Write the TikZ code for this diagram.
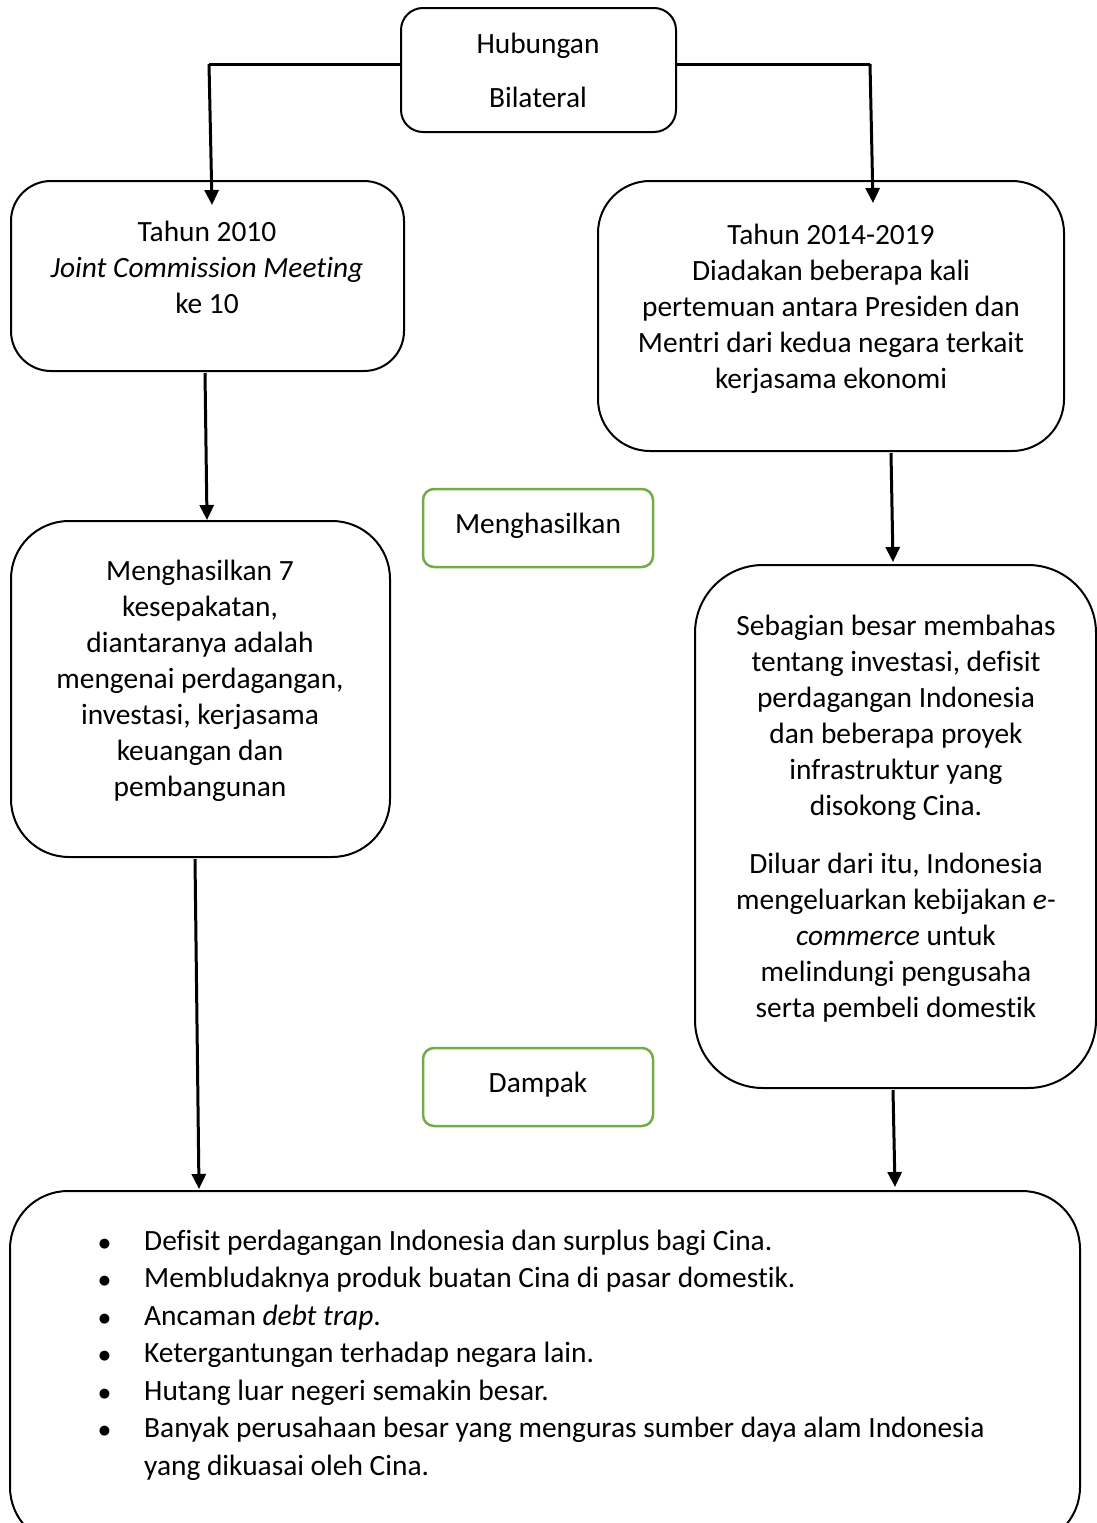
\documentclass[tikz,border=0pt]{standalone}
\usepackage{fontspec}
\setmainfont{Carlito}[Ligatures=NoCommon]
\newfontfamily\dejavu{DejaVu Sans}
\usetikzlibrary{arrows.meta,calc}
\definecolor{offgreen}{HTML}{70AD47}
\tikzset{
  box/.style={draw=black, line width=2pt, rectangle, inner sep=0pt},
  gbox/.style={draw=offgreen, line width=2.5pt, rectangle, rounded corners=11pt, inner sep=0pt, minimum width=230pt, minimum height=78pt},
  txt/.style={align=center, inner sep=0pt, anchor=base, font=\fontsize{29.4}{36}\selectfont},
  conn/.style={line width=3pt, -{Triangle[length=15pt,width=14pt]}},
  plain/.style={line width=3pt},
}
\newcommand{\blt}{\llap{\raisebox{3pt}{\dejavu\fontsize{13}{13}\selectfont ●}\hspace{34pt}}}
\begin{document}
\begin{tikzpicture}[x=1pt,y=-1pt]
\useasboundingbox (0,0) rectangle (1097,1523);
\clip (0,0) rectangle (1097,1523);
% boxes
\node[box, rounded corners=22pt, minimum width=275pt, minimum height=124pt] (top) at (538.5,70) {};
\node[box, rounded corners=40pt, minimum width=393pt, minimum height=190pt] (A) at (207.5,276) {};
\node[box, rounded corners=52pt, minimum width=466pt, minimum height=270pt] (B) at (831,316) {};
\node[box, rounded corners=58pt, minimum width=379pt, minimum height=336pt] (C) at (200.5,689) {};
\node[box, rounded corners=68pt, minimum width=401pt, minimum height=523pt] (D) at (895.5,826.5) {};
\node[box, rounded corners=58pt, minimum width=1070pt, minimum height=354pt] (E) at (545,1368) {};
\node[gbox] (G1) at (538,528) {};
\node[gbox] (G2) at (538,1087) {};
% texts (anchor = baseline of last line)
\node[txt] (tTop) at (538,107) {Hubungan\\[18pt]Bilateral};
\node[txt] (tA) at (207,313) {Tahun 2010\\\textit{Joint Commission Meeting}\\ke 10};
\node[txt] (tB) at (831,388) {Tahun 2014-2019\\Diadakan beberapa kali\\pertemuan antara Presiden dan\\Mentri dari kedua negara terkait\\kerjasama ekonomi};
\node[txt] (tC) at (200,796) {Menghasilkan 7\\kesepakatan,\\diantaranya adalah\\mengenai perdagangan,\\investasi, kerjasama\\keuangan dan\\pembangunan};
\node[txt] (tD) at (896,1017) {Sebagian besar membahas\\tentang investasi, defisit\\perdagangan Indonesia\\dan beberapa proyek\\infrastruktur yang\\disokong Cina.\\[22pt]Diluar dari itu, Indonesia\\mengeluarkan kebijakan \textit{e-}\\\textit{commerce} untuk\\melindungi pengusaha\\serta pembeli domestik};
\node[txt] (tG1) at (538,533) {Menghasilkan};
\node[txt] (tG2) at (538,1092) {Dampak};
\node[txt, align=left, anchor=base west, font=\fontsize{29.4}{37.5}\selectfont] (tE) at (144,1475) {%
\blt Defisit perdagangan Indonesia dan surplus bagi Cina.\\
\blt Membludaknya produk buatan Cina di pasar domestik.\\
\blt Ancaman \textit{debt trap}.\\
\blt Ketergantungan terhadap negara lain.\\
\blt Hutang luar negeri semakin besar.\\
\blt Banyak perusahaan besar yang menguras sumber daya alam Indonesia\\
yang dikuasai oleh Cina.};
% connectors
\coordinate (tlc) at (209,64);
\coordinate (tle) at (212,205);
\coordinate (trc) at (870,64);
\coordinate (tre) at (873,203);
\draw[plain] (top.west |- tlc) -- (tlc);
\draw[conn] (tlc) -- (tle);
\draw[plain] (top.east |- trc) -- (trc);
\draw[conn] (trc) -- (tre);
\draw[conn] ($(A.south)+(-2.5,1)$) -- ($(C.north)+(6.5,0)$);
\draw[conn] ($(B.south)+(60,1)$) -- ($(D.north)+(-2.5,-2)$);
\draw[conn] ($(C.south)+(-5.5,1)$) -- ($(E.north)+(-346,-1)$);
\draw[conn] ($(D.south)+(-2.5,1)$) -- ($(E.north)+(350,-3)$);
\end{tikzpicture}
\end{document}
